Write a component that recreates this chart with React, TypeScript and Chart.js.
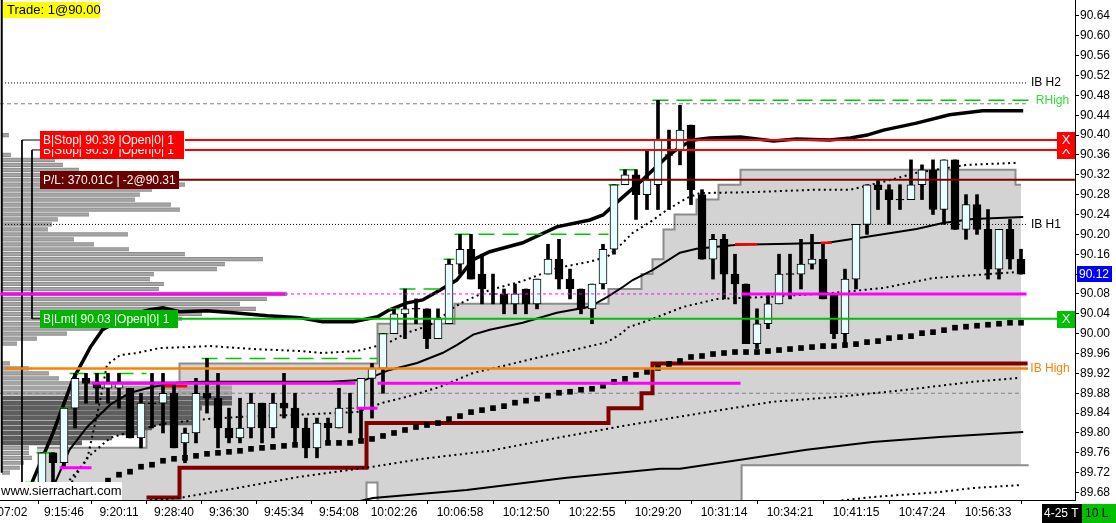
import React, { useEffect, useRef } from 'react';
import { Chart, registerables } from 'chart.js';
Chart.register(...registerables);

// ---------- candles (bar index 0..90) ----------
const opens = [89.66,89.66,89.76,89.74,89.85,89.91,89.90,89.89,89.89,89.89,89.79,89.86,89.86,89.88,89.78,89.80,89.88,89.87,89.81,89.79,89.81,89.86,89.81,89.86,89.85,89.81,89.77,89.82,89.81,89.85,89.85,89.91,89.93,90.00,90.04,90.05,90.05,89.99,90.02,90.14,90.17,90.12,90.08,90.08,90.06,90.09,90.06,90.12,90.15,90.11,90.09,90.05,90.10,90.17,90.30,90.32,90.28,90.30,90.36,90.37,90.42,90.28,90.15,90.19,90.12,90.10,89.98,90.02,90.06,90.12,90.12,90.14,90.15,90.08,90.00,90.11,90.22,90.30,90.29,90.27,90.27,90.30,90.33,90.25,90.35,90.21,90.26,90.21,90.13,90.21,90.15];
const highs = [89.70,89.76,89.76,89.85,89.92,89.92,89.92,89.92,89.92,89.89,89.88,89.92,89.92,89.90,89.81,89.91,89.95,89.92,89.85,89.87,89.88,89.86,89.88,89.92,89.88,89.83,89.83,89.83,89.89,89.88,89.91,89.94,90.00,90.05,90.09,90.07,90.05,90.05,90.15,90.20,90.20,90.16,90.12,90.09,90.10,90.09,90.11,90.18,90.19,90.13,90.09,90.10,90.18,90.30,90.33,90.33,90.37,90.47,90.41,90.46,90.42,90.29,90.20,90.20,90.16,90.10,90.05,90.08,90.16,90.16,90.19,90.20,90.18,90.08,90.13,90.22,90.30,90.31,90.30,90.30,90.35,90.34,90.35,90.35,90.35,90.28,90.28,90.25,90.21,90.23,90.17];
const lows = [89.65,89.65,89.70,89.73,89.81,89.86,89.86,89.86,89.85,89.79,89.77,89.81,89.80,89.77,89.74,89.78,89.84,89.77,89.78,89.78,89.79,89.78,89.79,89.83,89.78,89.75,89.75,89.78,89.81,89.80,89.78,89.83,89.88,90.00,89.99,90.02,89.97,89.99,90.02,90.12,90.11,90.06,90.06,90.04,90.04,90.04,90.05,90.12,90.09,90.07,90.04,90.02,90.09,90.16,90.30,90.23,90.25,90.25,90.25,90.34,90.26,90.15,90.11,90.07,90.06,89.98,89.97,90.01,90.06,90.07,90.09,90.13,90.07,89.99,89.98,90.09,90.20,90.25,90.22,90.25,90.27,90.27,90.24,90.22,90.21,90.19,90.20,90.11,90.11,90.13,90.12];
const closes = [89.70,89.76,89.74,89.85,89.91,89.90,89.89,89.90,89.90,89.79,89.86,89.86,89.88,89.77,89.80,89.88,89.87,89.81,89.79,89.81,89.86,89.81,89.86,89.85,89.81,89.77,89.82,89.81,89.85,89.85,89.91,89.93,90.00,90.04,90.05,90.05,89.99,90.03,90.14,90.17,90.11,90.09,90.08,90.06,90.08,90.06,90.11,90.15,90.11,90.09,90.05,90.10,90.17,90.30,90.32,90.28,90.31,90.39,90.36,90.41,90.29,90.15,90.19,90.12,90.10,89.98,90.02,90.06,90.12,90.12,90.14,90.15,90.07,90.00,90.11,90.22,90.30,90.29,90.27,90.27,90.30,90.33,90.25,90.35,90.21,90.26,90.21,90.13,90.21,90.15,90.12];

// ---------- axes ----------
const timeTickIndex = [-1.7, 3, 8, 13, 18, 23, 28, 33, 39, 45, 51, 57, 63, 69, 75, 81, 87];
const timeTickLabels = ['07:02','9:15:46','9:20:11','9:28:40','9:36:30','9:45:34','9:54:08','10:02:26','10:06:58','10:12:50','10:22:55','10:29:20','10:31:14','10:34:21','10:41:15','10:47:24','10:56:33'];
const priceTicks = [89.68,89.72,89.76,89.80,89.84,89.88,89.92,89.96,90.00,90.04,90.08,90.12,90.16,90.20,90.24,90.28,90.32,90.36,90.40,90.44,90.48,90.52,90.56,90.60,90.64];

// ---------- studies ----------
const upperBand = [[-0.3,89.66],[0.09,89.700],[2.0,89.800],[3.8,89.907],[5.4,89.973],[6.5,90.008],[9.0,90.038],[10.8,90.048],[12.0,90.052],[13.5,90.044],[16.0,90.046],[18.4,90.042],[21.5,90.036],[24.5,90.032],[26.5,90.024],[29.3,90.024],[31.5,90.034],[32.6,90.048],[34.2,90.062],[35.6,90.068],[37.2,90.088],[38.7,90.108],[40.2,90.149],[41.7,90.165],[44.7,90.183],[47.8,90.215],[50.8,90.229],[52.0,90.239],[53.8,90.275],[55.6,90.310],[57.8,90.356],[59.0,90.376],[60.2,90.390],[61.7,90.394],[64.5,90.396],[67.5,90.388],[69.6,90.392],[72.6,90.390],[74.5,90.394],[76.0,90.400],[77.5,90.410],[80.5,90.424],[83.5,90.441],[86.5,90.449],[90.2,90.449]];
const middleLine = [[1.8,89.66],[2.2,89.700],[3.5,89.766],[5.1,89.812],[7.2,89.857],[9.0,89.881],[11.1,89.893],[13.3,89.901],[15.6,89.903],[27.2,89.903],[30.4,89.907],[32.6,89.927],[35.1,89.941],[37.4,89.961],[38.7,89.977],[40.2,89.998],[41.7,90.008],[44.7,90.022],[47.8,90.042],[50.8,90.054],[52.4,90.074],[53.8,90.094],[54.7,90.108],[56.5,90.128],[59.0,90.163],[60.5,90.171],[64.2,90.179],[69.0,90.181],[72.4,90.183],[76.0,90.195],[80.5,90.211],[82.9,90.223],[85.6,90.231],[90.2,90.235]];
const middleRedParts = [[12.0,14.2,89.894],[64.0,66.0,90.180],[71.8,72.8,90.183]];
const lowerLine = [[29.9,89.663],[31.1,89.669],[39.6,89.685],[48.7,89.710],[57.2,89.728],[59.0,89.728],[64.5,89.746],[70.5,89.766],[76.5,89.782],[82.6,89.792],[90.2,89.802]];
const dotted1 = [[3.5,89.705],[5.1,89.746],[6.3,89.867],[6.9,89.937],[8.1,89.957],[9.6,89.961],[11.7,89.971],[14.2,89.973],[16.3,89.975],[20.2,89.969],[24.5,89.965],[26.5,89.961],[29.6,89.965],[31.1,89.973],[32.6,89.983],[34.2,90.002],[35.6,90.012],[36.9,90.024],[38.1,90.048],[39.3,90.064],[41.7,90.088],[44.7,90.106],[47.8,90.132],[50.8,90.145],[52.4,90.155],[53.8,90.183],[54.7,90.203],[56.3,90.225],[57.8,90.249],[59.6,90.273],[60.8,90.283],[65.4,90.285],[71.5,90.290],[74.5,90.290],[77.5,90.306],[80.5,90.324],[85.1,90.340],[89.6,90.344]];
const dotted2 = [[3.7,89.701],[5.1,89.750],[7.2,89.790],[9.6,89.806],[12.4,89.820],[16.0,89.828],[20.2,89.834],[23.5,89.836],[29.6,89.842],[32.0,89.861],[34.2,89.873],[37.2,89.893],[40.2,89.921],[43.3,89.937],[46.3,89.953],[49.3,89.967],[52.4,89.983],[53.8,90.002],[54.2,90.012],[56.3,90.028],[59.3,90.054],[62.4,90.070],[66.9,90.074],[72.9,90.082],[77.5,90.092],[82.0,90.112],[89.6,90.124]];
const dotted3 = [[10.8,89.665],[13.5,89.669],[16.0,89.679],[18.7,89.689],[21.7,89.701],[24.5,89.712],[30.5,89.730],[35.6,89.748],[41.7,89.764],[47.8,89.790],[53.8,89.814],[61.5,89.842],[67.5,89.863],[73.5,89.873],[79.6,89.887],[85.6,89.903],[89.9,89.911]];
const dotted4 = [[71.7,89.659],[73.3,89.663],[76.5,89.671],[82.6,89.681],[85.6,89.689],[89.9,89.695]];
const squareStart = 7;
const squareValues = [89.704,89.716,89.722,89.732,89.736,89.744,89.748,89.750,89.754,89.758,89.760,89.762,89.764,89.768,89.770,89.772,89.774,89.776,89.776,89.776,89.780,89.780,89.780,89.784,89.788,89.794,89.800,89.806,89.812,89.816,89.820,89.828,89.834,89.842,89.846,89.850,89.854,89.861,89.865,89.869,89.875,89.881,89.883,89.887,89.889,89.895,89.903,89.909,89.917,89.923,89.931,89.939,89.945,89.953,89.955,89.959,89.961,89.963,89.963,89.963,89.965,89.967,89.969,89.971,89.973,89.975,89.975,89.977,89.979,89.983,89.985,89.991,89.993,89.995,90.001,90.003,90.007,90.012,90.014,90.016,90.018,90.020,90.022,90.022];
const squareRedIndex = 25;
const stopLine = [[10.5,89.67],[13.5,89.67],[13.5,89.73],[30.5,89.73],[30.5,89.82],[52.5,89.82],[52.5,89.85],[55.5,89.85],[55.5,89.88],[56.5,89.88],[56.5,89.94],[90.6,89.94]];

// value-area shape
const areaTop = [[0.55,89.77],[10.5,89.77],[10.5,89.87],[13.5,89.87],[13.5,89.94],[31.5,89.94],[31.5,90.02],[38.5,90.02],[38.5,90.06],[52.5,90.06],[52.5,90.09],[55.5,90.09],[55.5,90.12],[56.5,90.12],[56.5,90.15],[57.5,90.15],[57.5,90.21],[58.5,90.21],[58.5,90.24],[60.5,90.24],[60.5,90.27],[62.5,90.27],[62.5,90.30],[64.5,90.30],[64.5,90.33],[89.5,90.33],[89.5,90.30],[90.0,90.30]];
const areaNotchRight = [[64.6,89.60],[64.6,89.735],[90.7,89.735]];
const areaNotchSmall = [[30.5,89.60],[30.5,89.70],[31.5,89.70],[31.5,89.60]];

// volume profile (left)
const profileStart = -2.64;
const profilePrices = [90.40,90.36,90.35,90.34,90.33,90.32,90.31,90.30,90.29,90.28,90.27,90.26,90.25,90.24,90.23,90.22,90.21,90.20,90.19,90.18,90.17,90.16,90.15,90.14,90.13,90.12,90.11,90.10,90.09,90.08,90.07,90.06,90.05,90.04,90.03,90.02,90.01,90.00,89.99,89.98,89.94,89.93,89.92,89.91,89.77,89.76,89.75,89.74,89.73,89.72];
const profileVols = [7,9,53,61,77,83,150,183,150,138,133,169,178,87,56,50,46,126,72,92,127,183,261,223,215,152,148,162,157,285,265,238,254,200,180,150,100,65,35,15,8,27,47,57,27,27,30,22,18,8];
const bandPrices = [89.90,89.89,89.88];
const bandVols = [230,230,230];
const darkPrices = [89.87,89.86,89.85,89.84,89.83,89.82,89.81,89.80,89.79,89.78];
const darkVols = [230,230,200,190,192,192,150,140,110,80];

// levels
const ibH2 = 90.505, highDash = 90.463, ibH1 = 90.22, ibHigh = 89.93, lowDash = 89.88;
const stopPrices = [90.39, 90.37];
const plPrice = 90.31;
const lmtPrice = 90.03;
const pocSolid = [[-2.8,23.1,90.08],[64.6,90.5,90.08],[2.6,5.5,89.73],[5.5,29.5,89.90],[29.6,31.5,89.85],[31.5,64.5,89.90]];
const pocDashed = [[23.1,64.6,90.08]];
const highDashed = [[3.5,10.5,89.92],[15.5,31.5,89.95],[33.5,37.5,90.09],[38.5,52.5,90.20],[56.5,90.8,90.47]];
const highTicks = [[-0.5,0.5,89.70],[0.5,2.2,89.76],[2.5,3.5,89.85],[31.5,32.5,90.00],[32.5,33.5,90.05],[37.5,38.5,90.15],[52.5,53.5,90.30],[53.5,55.1,90.33]];
const sessionLine = [[-2.66,90.70],[-2.66,89.72]];
const connector1 = [[0.82,90.39],[-0.82,90.39],[-0.82,89.60]];
const connector2 = [[0.82,90.37],[0.09,90.37],[0.09,90.03],[0.82,90.03]];

const orderTexts = ['B|Stop| 90.37 |Open|0| 1','B|Stop| 90.39 |Open|0| 1','P/L: 370.01C | -2@90.31','B|Lmt| 90.03 |Open|0| 1'];
const orderPrices = [90.37, 90.39, 90.31, 90.03];
const orderLabelIdx = 0.82;
const rightTexts = ['IB H2','RHigh','IB H1','IB High'];
const rightPrices = [90.505, 90.47, 90.22, 89.93];
const rightIdx = [90.9, 91.35, 90.9, 90.85];

const FONT = '"Liberation Sans", Arial, sans-serif';

const pts = (arr) => arr.map(([x, y]) => ({ x, y }));
const segs = (arr) => arr.flatMap(([x0, x1, p]) => [{ x: x0, y: p }, { x: x1, y: p }, { x: x1, y: null }]);
const rows = (prices, vols) => prices.flatMap((p, k) => [{ x: profileStart, y: p }, { x: profileStart + vols[k] / 11, y: p }, { x: profileStart, y: null }]);
const hline = (p, x0, x1) => [{ x: x0, y: p }, { x: x1, y: p }];

const line = (data, color, width, order, extra = {}) => ({
  type: 'line', data, borderColor: color, borderWidth: width, pointRadius: 0, fill: false, tension: 0, order, ...extra,
});

const overlayPlugin = {
  id: 'overlay',
  afterDraw(chart) {
    const { ctx, chartArea: a, scales } = chart;
    const xs = scales.x, ys = scales.y;
    ctx.save();
    ctx.textBaseline = 'middle';
    ctx.font = `12px ${FONT}`;
    const orderBg = ['#ff0000', '#ff0000', '#6a0000', '#00b400'];
    const orderW = [144, 144, 139, 138];
    orderTexts.forEach((t, k) => {
      const yc = Math.round(ys.getPixelForValue(orderPrices[k]));
      const x0 = Math.round(xs.getPixelForValue(orderLabelIdx));
      ctx.fillStyle = orderBg[k];
      ctx.fillRect(x0, yc - 9, orderW[k], 18);
      ctx.fillStyle = '#ffffff';
      ctx.fillText(t, x0 + 3, yc + 0.5);
    });
    // X cancel boxes
    ctx.font = `13px ${FONT}`;
    ctx.textAlign = 'center';
    [[stopPrices[1], '#ff0000'], [stopPrices[0], '#ff0000'], [lmtPrice, '#00c000']].forEach(([p, c]) => {
      const yc = Math.round(ys.getPixelForValue(p));
      ctx.fillStyle = c;
      ctx.fillRect(a.right - 18, yc - 8, 18, 17);
      ctx.fillStyle = '#ffffff';
      ctx.fillText('X', a.right - 9, yc + 0.5);
    });
    // right side labels
    ctx.font = `12px ${FONT}`;
    ctx.textAlign = 'left';
    const rc = ['#000000', '#33dd33', '#000000', '#ff8000'];
    rightTexts.forEach((t, k) => {
      ctx.fillStyle = rc[k];
      ctx.fillText(t, xs.getPixelForValue(rightIdx[k]), ys.getPixelForValue(rightPrices[k]));
    });
    // trade box
    ctx.font = `13px ${FONT}`;
    ctx.fillStyle = '#ffff00';
    ctx.fillRect(a.left + 3, a.top + 2, 97, 16);
    ctx.fillStyle = '#000000';
    ctx.fillText('Trade: 1@90.00', a.left + 7, a.top + 10);
    // website box
    ctx.fillStyle = '#ffffff';
    ctx.fillRect(a.left, a.bottom - 18, 122, 18);
    ctx.fillStyle = '#000000';
    ctx.fillText('www.sierrachart.com', a.left + 1, a.bottom - 9);
    // last price box
    const last = closes[closes.length - 1];
    const yl = Math.round(ys.getPixelForValue(last));
    ctx.font = `12px ${FONT}`;
    ctx.fillStyle = '#0000ff';
    ctx.fillRect(a.right + 2, yl - 8, 35, 16);
    ctx.fillStyle = '#ffffff';
    ctx.fillText(last.toFixed(2), a.right + 4, yl + 0.5);
    // bottom right status boxes
    const W = chart.width, H = chart.height;
    ctx.fillStyle = '#000000';
    ctx.fillRect(W - 74, H - 19, 40, 19);
    ctx.fillStyle = '#00c000';
    ctx.fillRect(W - 34, H - 19, 34, 19);
    ctx.save();
    ctx.beginPath();
    ctx.rect(W - 74, H - 19, 40, 19);
    ctx.clip();
    ctx.fillStyle = '#ffffff';
    ctx.fillText('4-25 T', W - 72, H - 9);
    ctx.restore();
    ctx.fillStyle = '#000000';
    ctx.fillText('10 L', W - 31, H - 9);
    ctx.restore();
  },
};

export default function App() {
  const ref = useRef(null);
  useEffect(() => {
    document.body.style.margin = '0';
    const idx = opens.map((_, i) => i);
    const datasets = [
      line(pts(areaTop), '#8c8c8c', 2, 100, { fill: 'start', backgroundColor: '#d3d3d3' }),
      line(pts(areaNotchRight), '#8c8c8c', 2, 99, { fill: 'start', backgroundColor: '#ffffff' }),
      line(pts(areaNotchSmall), '#8c8c8c', 2, 99, { fill: 'start', backgroundColor: '#ffffff' }),
      line(rows(profilePrices, profileVols), '#8e8e8e', 4.2, 90),
      line(rows(profilePrices, profileVols), '#a6a6a6', 2.2, 89),
      line(rows(bandPrices, bandVols), '#a4a4a4', 4.6, 88),
      line(rows(darkPrices, darkVols), '#5e5e5e', 4.6, 88),
      line(hline(highDash, -2.82, 90.64), '#808080', 1, 60, { borderDash: [4, 3] }),
      line(hline(lowDash, -2.82, 90.1), '#808080', 1, 60, { borderDash: [4, 3] }),
      line(hline(ibH2, -2.36, 90.64), '#000000', 1, 60, { borderDash: [1, 2] }),
      line(hline(ibH1, -2.36, 90.64), '#000000', 1, 60, { borderDash: [1, 2] }),
      line(pts(stopLine), '#800000', 4, 45),
      line(pts(lowerLine), '#000000', 2, 40),
      line(pts(dotted3), '#000000', 2, 40, { borderDash: [2, 3.5] }),
      line(pts(dotted4), '#000000', 2, 40, { borderDash: [2, 3.5] }),
      {
        type: 'line', order: 35, showLine: false, pointStyle: 'rect', pointRadius: 4, pointBorderWidth: 0,
        data: squareValues.map((v, k) => ({ x: squareStart + k, y: v })),
        pointBackgroundColor: squareValues.map((_, k) => (squareStart + k === squareRedIndex ? '#ff0000' : '#000000')),
      },
      line(pts(dotted1), '#000000', 2, 30, { borderDash: [2, 3.5] }),
      line(pts(dotted2), '#000000', 2, 30, { borderDash: [2, 3.5] }),
      line(pts(middleLine), '#000000', 2, 30),
      line(segs(middleRedParts), '#ff0000', 2.5, 29),
      line(pts(upperBand), '#000000', 3.5, 30),
      line(segs(highDashed), '#00c800', 1.5, 25, { borderDash: [16, 8] }),
      line(segs(highTicks), '#00c800', 1.5, 25),
      {
        type: 'bar', order: 10, grouped: false, barThickness: 3, backgroundColor: '#000000',
        data: idx.map((i) => ({ x: i, y: [lows[i], highs[i]] })),
      },
      {
        type: 'bar', order: 9, grouped: false, barThickness: 8, borderColor: '#000000', borderWidth: 1, borderSkipped: false,
        data: idx.map((i) => {
          const o = opens[i], c = closes[i];
          return { x: i, y: o === c ? [o - 0.0008, o + 0.0008] : [Math.min(o, c), Math.max(o, c)] };
        }),
        backgroundColor: idx.map((i) => (closes[i] > opens[i] ? '#e8ffff' : '#000000')),
      },
      line(pts(sessionLine), '#000000', 2, 5),
      line(pts(connector1), '#000000', 1, 5),
      line(pts(connector2), '#000000', 1, 5),
      line(segs(pocDashed), '#ff00ff', 1, 4, { borderDash: [3, 3] }),
      line(segs(pocSolid), '#ff00ff', 3, 4),
      line(hline(ibHigh, -2.36, 90.64), '#ff8000', 2.5, 3),
      line(hline(plPrice, 13.45, 94.9), '#800000', 2, 3),
      line(hline(stopPrices[0], 14.0, 94.9), '#ff0000', 2, 3),
      line(hline(stopPrices[1], 14.0, 94.9), '#ff0000', 2, 3),
      line(hline(lmtPrice, 13.4, 94.9), '#00c000', 2, 3),
    ];

    const chart = new Chart(ref.current, {
      type: 'line',
      data: { datasets },
      plugins: [overlayPlugin],
      options: {
        responsive: false,
        animation: false,
        events: [],
        layout: { padding: 0, autoPadding: false },
        plugins: { legend: { display: false }, tooltip: { enabled: false } },
        scales: {
          x: {
            type: 'linear', min: -31 / 11, max: (1075 - 31) / 11, offset: false,
            afterBuildTicks: (s) => { s.ticks = timeTickIndex.map((v) => ({ value: v })); },
            afterFit: (s) => { s.height = 23; s.paddingLeft = 0; s.paddingRight = 0; },
            ticks: {
              autoSkip: false, maxRotation: 0, minRotation: 0, padding: 1, color: '#000000',
              font: { family: FONT, size: 12 },
              callback: (v) => { const k = timeTickIndex.indexOf(Number(v)); return k >= 0 ? timeTickLabels[k] : ''; },
            },
            grid: { drawOnChartArea: false, drawTicks: true, tickLength: 4, color: '#000000' },
            border: { display: true, color: '#000000', width: 1 },
          },
          y: {
            type: 'linear', position: 'right', min: 89.665, max: 90.672,
            afterBuildTicks: (s) => { s.ticks = priceTicks.map((v) => ({ value: v })); },
            afterFit: (s) => { s.width = 41; s.paddingTop = 0; s.paddingBottom = 0; },
            ticks: {
              autoSkip: false, padding: 1, color: '#000000', font: { family: FONT, size: 12 },
              callback: (v) => Number(v).toFixed(2),
            },
            grid: { drawOnChartArea: false, drawTicks: true, tickLength: 4, color: '#000000' },
            border: { display: true, color: '#000000', width: 1 },
          },
        },
      },
    });
    return () => chart.destroy();
  }, []);
  return (
    <div style={{ position: 'absolute', left: 0, top: 0, width: 1116, height: 523, background: '#ffffff' }}>
      <canvas ref={ref} width={1116} height={523} style={{ display: 'block' }} />
    </div>
  );
}
